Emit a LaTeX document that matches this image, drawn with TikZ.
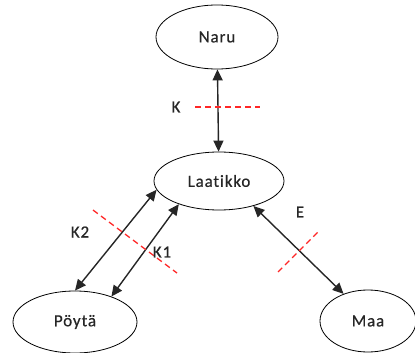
\documentclass[tikz,border=0pt]{standalone}
\usepackage{fontspec}
\setmainfont[Ligatures=NoCommon,LetterSpace=5,FakeBold=0.6]{Carlito}
\usetikzlibrary{shapes.geometric,arrows.meta}

\begin{document}
\begin{tikzpicture}[x=1pt,y=-1pt,font=\fontsize{17}{20}\selectfont]
        \tikzstyle{kappale}=[ellipse,draw,line width=0.8pt,inner sep=0pt,text=black!85]
        \tikzstyle{vuoro}=[{Triangle[length=11pt,width=10pt]}-{Triangle[length=11pt,width=10pt]},line width=1.4pt,black!85]
        \tikzstyle{raja}=[red!85!white,dashed,dash pattern=on 6pt off 4pt,line width=1.3pt]
        \tikzstyle{tunnus}=[text=black!85,inner sep=1pt]
        \useasboundingbox (0,0) rectangle (415,353);
        % kappaleet
        \node[kappale, minimum width=122pt, minimum height=64pt] (naru) at (217,37) {Naru};
        \node[kappale, minimum width=130pt, minimum height=58pt] (laatikko) at (219,181) {Laatikko};
        \node[kappale, minimum width=124pt, minimum height=62pt] (poyta) at (75,322) {Pöytä};
        \node[kappale, minimum width=96pt, minimum height=62pt] (maa) at (368,321) {Maa};
        % vuorovaikutukset
        \draw[vuoro] (naru) -- (laatikko);
        \draw[vuoro] (poyta.90) -- (laatikko.188);
        \draw[vuoro] (poyta.35) -- (laatikko.210);
        \draw[vuoro] (laatikko.-36) -- (maa.132);
        % systeemin rajat
        \draw[raja] (195,107) -- (260,107);
        \draw[raja] (93,210) -- (177,273);
        \draw[raja] (278,272) -- (318,232);
        \node[tunnus] (k) at (176,107) {K};
        \node[tunnus] (k2) at (80,232) {K2};
        \node[tunnus] (k1) at (162,252) {K1};
        \node[tunnus] (e) at (300,212) {E};
\end{tikzpicture}
\end{document}
